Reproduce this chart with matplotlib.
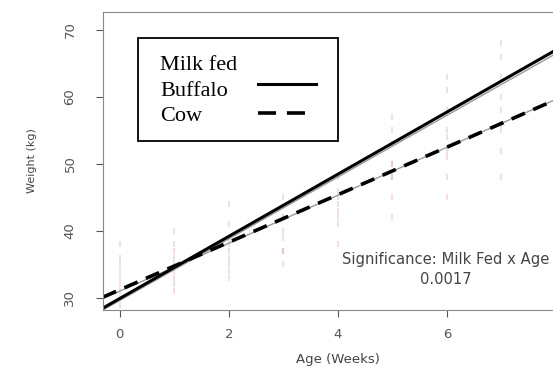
import numpy as np
import matplotlib.pyplot as plt
from matplotlib.lines import Line2D
from matplotlib.patches import Rectangle

# Observed weights by week
buf_weeks = [0]*5 + [1]*5 + [2]*5 + [3]*4 + [4]*4 + [5]*5 + [6]*5 + [7]*5 + [8]*3
buf_weight = [31, 33, 35, 36, 38,
              32, 34, 36, 38, 40,
              34, 36, 38, 41, 44,
              37, 39, 42, 45,
              42, 44, 46, 48,
              48, 50, 53, 55, 57,
              52, 55, 58, 61, 63,
              56, 60, 63, 66, 68,
              60, 64, 67]
cow_weeks = [0]*4 + [1]*4 + [2]*4 + [3]*4 + [4]*4 + [5]*4 + [6]*4 + [7]*4 + [8]*3
cow_weight = [29, 30, 32, 34,
              31, 33, 35, 37,
              33, 35, 37, 39,
              35, 37, 40, 42,
              38, 41, 43, 45,
              42, 45, 48, 50,
              45, 48, 51, 54,
              48, 52, 55, 58,
              50, 54, 57]

# Fitted lines (intercept, slope)
buf_fit = (29.9, 4.64)
cow_fit = (31.2, 3.55)
buf_fit_grey = (29.6, 4.61)
cow_fit_grey = (31.0, 3.58)

sig_label = "Significance: Milk Fed x Age"
sig_value = "0.0017"
x_ticks = [0, 2, 4, 6, 8]
y_ticks = [30, 40, 50, 60, 70]
legend_title = "Milk fed"
legend_labels = ["Buffalo", "Cow"]

W, H = 553, 372
fig = plt.figure(figsize=(W/100, H/100), dpi=100)
ax = fig.add_axes([0.186, 0.167, 0.85, 0.801])
ax.set_xlim(-0.31, 8.31)
ax.set_ylim(28.2, 72.7)

ax.scatter(buf_weeks, buf_weight, marker='|', s=25, color='#999999', alpha=0.25, linewidths=1.5)
ax.scatter(cow_weeks, cow_weight, marker='|', s=25, color='#e07a8a', alpha=0.25, linewidths=1.5)

xs = np.array(ax.get_xlim())
ax.plot(xs, buf_fit_grey[0] + buf_fit_grey[1]*xs, color='#999999', lw=1.0)
ax.plot(xs, cow_fit_grey[0] + cow_fit_grey[1]*xs, color='#999999', lw=1.0)
ax.plot(xs, buf_fit[0] + buf_fit[1]*xs, color='black', lw=2.2)
ax.plot(xs, cow_fit[0] + cow_fit[1]*xs, color='black', lw=2.6, dashes=(4, 2.5))

ax.text(5.98, 35.7, sig_label, ha='center', va='center', fontsize=10.6, color='#444444')
ax.text(5.98, 32.7, sig_value, ha='center', va='center', fontsize=10.6, color='#444444')

ax.set_xticks(x_ticks)
ax.set_yticks(y_ticks)
ax.set_yticklabels([str(v) for v in y_ticks], rotation=90, va='center')
ax.tick_params(colors='#555555', labelsize=9.5, length=5)
ax.tick_params(axis='y', pad=14)
ax.tick_params(axis='x', pad=8)
for s in ax.spines.values():
    s.set_color('#888888')
    s.set_linewidth(0.8)
ax.set_xlabel('Age (Weeks)', fontsize=9.5, color='#444444', labelpad=9)
ax.set_ylabel('Weight (kg)', fontsize=8, color='#444444', labelpad=19)

# legend box drawn in figure pixels
def fx(px):
    return px / W

def fy(py):
    return 1 - py / H

serif = {'family': 'Liberation Serif', 'size': 16, 'color': 'black'}
fig.patches.append(Rectangle((fx(138), fy(141)), fx(338) - fx(138), fy(38) - fy(141),
                             transform=fig.transFigure, fill=True, facecolor='white',
                             edgecolor='black', lw=1.3, zorder=5))
fig.text(fx(160), fy(70), legend_title, va='baseline', zorder=6, **serif)
fig.text(fx(160), fy(96), legend_labels[0], va='baseline', zorder=6, **serif)
fig.text(fx(160), fy(121), legend_labels[1], va='baseline', zorder=6, **serif)
fig.lines.append(Line2D([fx(258), fx(316)], [fy(84), fy(84)], transform=fig.transFigure,
                        color='black', lw=2.2, zorder=6))
fig.lines.append(Line2D([fx(258), fx(306)], [fy(113), fy(113)], transform=fig.transFigure,
                        color='black', lw=2.6, dashes=(5, 3), zorder=6))

fig.savefig('out.png', dpi=100)
